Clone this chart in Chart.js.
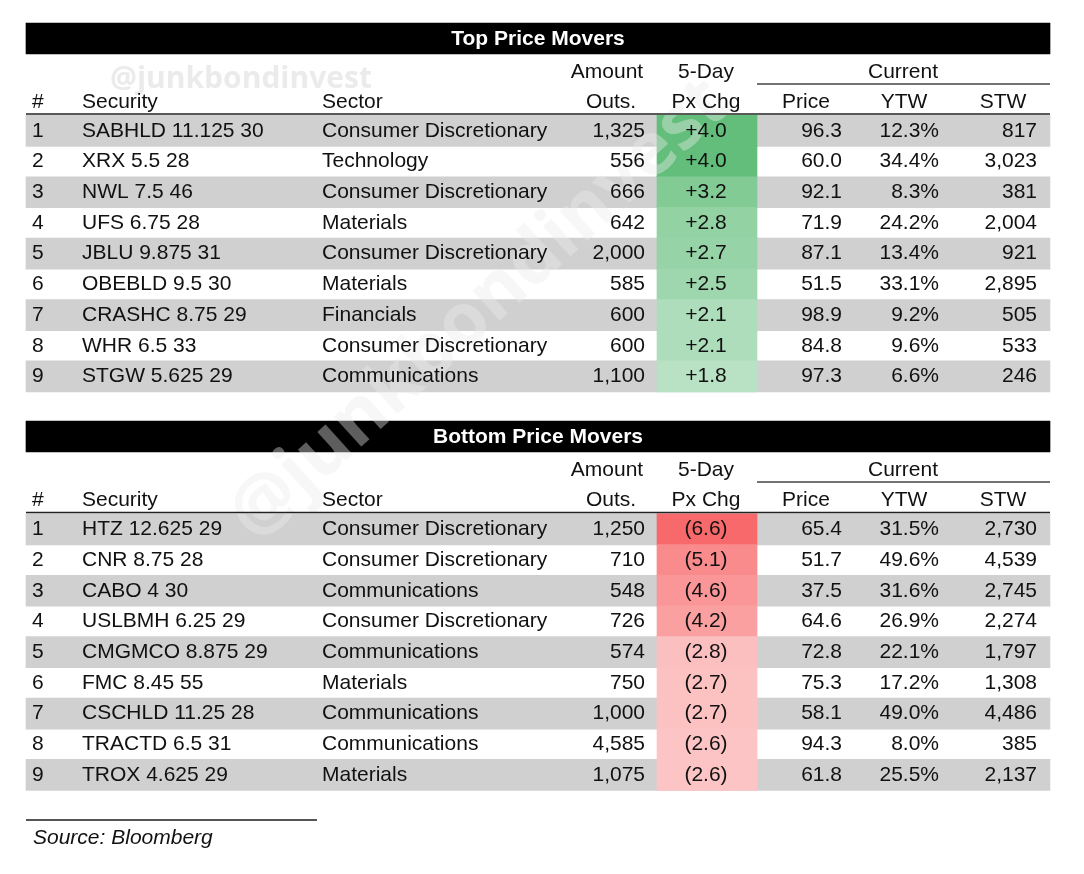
<!DOCTYPE html>
<html>
<head>
<meta charset="utf-8">
<script src="https://cdn.jsdelivr.net/npm/chart.js@4.4.1/dist/chart.umd.min.js"></script>
<style>
html,body{margin:0;padding:0;background:#fff;}
#wrap{width:1084px;height:874px;position:relative;}
</style>
</head>
<body>
<div id="wrap"><canvas id="c"></canvas></div>
<script>
// ---------- DATA ----------
const titles = ['Top Price Movers', 'Bottom Price Movers'];
const headerLine1 = ['Amount', '5-Day', 'Current'];
const headerLine2 = ['#', 'Security', 'Sector', 'Outs.', 'Px Chg', 'Price', 'YTW', 'STW'];

const topSecurity = ['SABHLD 11.125 30','XRX 5.5 28','NWL 7.5 46','UFS 6.75 28','JBLU 9.875 31','OBEBLD 9.5 30','CRASHC 8.75 29','WHR 6.5 33','STGW 5.625 29'];
const topSector = ['Consumer Discretionary','Technology','Consumer Discretionary','Materials','Consumer Discretionary','Materials','Financials','Consumer Discretionary','Communications'];
const topAmount = [1325,556,666,642,2000,585,600,600,1100];
const topChg = [4.0,4.0,3.2,2.8,2.7,2.5,2.1,2.1,1.8];
const topPrice = [96.3,60.0,92.1,71.9,87.1,51.5,98.9,84.8,97.3];
const topYtw = [12.3,34.4,8.3,24.2,13.4,33.1,9.2,9.6,6.6];
const topStw = [817,3023,381,2004,921,2895,505,533,246];

const botSecurity = ['HTZ 12.625 29','CNR 8.75 28','CABO 4 30','USLBMH 6.25 29','CMGMCO 8.875 29','FMC 8.45 55','CSCHLD 11.25 28','TRACTD 6.5 31','TROX 4.625 29'];
const botSector = ['Consumer Discretionary','Consumer Discretionary','Communications','Consumer Discretionary','Communications','Materials','Communications','Communications','Materials'];
const botAmount = [1250,710,548,726,574,750,1000,4585,1075];
const botChg = [-6.6,-5.1,-4.6,-4.2,-2.8,-2.7,-2.7,-2.6,-2.6];
const botPrice = [65.4,51.7,37.5,64.6,72.8,75.3,58.1,94.3,61.8];
const botYtw = [31.5,49.6,31.6,26.9,22.1,17.2,49.0,8.0,25.5];
const botStw = [2730,4539,2745,2274,1797,1308,4486,385,2137];

const sourceText = 'Source: Bloomberg';
const watermark = '@junkbondinvest';

// ---------- LAYOUT ----------
const L = {
  left: 26, right: 1050,
  titleCenter: [38.5, 436.5], titleH: 31,
  hdr1: [72, 470], hdr2: [102, 500], hdrLine: [114, 512.5], curLine: [84, 482],
  rowTop: [115.5, 514], rowH: 30.7,
  chgL: 657, chgR: 757,
  srcLineY: 820, srcLineR: 317, srcY: 838
};
const FONT = '"Liberation Sans", Arial, sans-serif';
const FS = 21;
const cols = {
  rank:{x:32,a:'left'}, sec:{x:82,a:'left'}, sector:{x:322,a:'left'},
  amt:{x:645,a:'right'}, chg:{x:706,a:'center'}, price:{x:842,a:'right'},
  ytw:{x:939,a:'right'}, stw:{x:1037,a:'right'}
};
const hdr1X = [607, 706, 903];
const hdr2Cols = [{x:32,a:'left'},{x:82,a:'left'},{x:322,a:'left'},{x:611,a:'center'},{x:706,a:'center'},{x:806,a:'center'},{x:904,a:'center'},{x:1003,a:'center'}];

const tables = [
  {sec:topSecurity, sector:topSector, amt:topAmount, chg:topChg, price:topPrice, ytw:topYtw, stw:topStw},
  {sec:botSecurity, sector:botSector, amt:botAmount, chg:botChg, price:botPrice, ytw:botYtw, stw:botStw}
];

const rowCenter = (t, i) => L.rowTop[t] + (i + 0.5) * L.rowH;

function chgColor(v) {
  if (v >= 0) {
    const t = Math.min(1, v / 4.0);
    return `rgb(${Math.round(255-156*t)},${Math.round(255-65*t)},${Math.round(255-132*t)})`;
  }
  const t = Math.min(1, -v / 6.6);
  return `rgb(${Math.round(255-7*t)},${Math.round(255-150*t)},${Math.round(255-148*t)})`;
}
const fmtInt = v => v.toLocaleString('en-US');
const fmtChg = v => v >= 0 ? '+' + v.toFixed(1) : '(' + Math.abs(v).toFixed(1) + ')';

// ---------- DATASETS ----------
const stripeData = [], chgData = [], chgColors = [], titleData = [];
tables.forEach((tb, t) => {
  titleData.push({x:[L.left, L.right], y:L.titleCenter[t]});
  tb.chg.forEach((v, i) => {
    if (i % 2 === 0) stripeData.push({x:[L.left, L.right], y:rowCenter(t, i)});
    chgData.push({x:[L.chgL, L.chgR], y:rowCenter(t, i)});
    chgColors.push(chgColor(v));
  });
});

const textPlugin = {
  id: 'tableText',
  afterDatasetsDraw(chart) {
    const ctx = chart.ctx, xs = chart.scales.x, ys = chart.scales.y;
    const X = v => xs.getPixelForValue(v), Y = v => ys.getPixelForValue(v);
    ctx.save();
    // watermarks
    ctx.fillStyle = 'rgba(232,232,232,0.85)';
    ctx.font = 'bold 30px "Open Sans", "DejaVu Sans", sans-serif';
    ctx.textAlign = 'left'; ctx.textBaseline = 'alphabetic';
    ctx.fillText(watermark, X(110), Y(88));
    ctx.save();
    ctx.translate(X(480), Y(310));
    ctx.rotate(-Math.PI * 0.235);
    ctx.fillStyle = 'rgba(236,236,236,0.4)';
    ctx.font = 'bold 74px "Open Sans", "DejaVu Sans", sans-serif';
    ctx.textAlign = 'center'; ctx.textBaseline = 'middle';
    ctx.fillText(watermark, 0, 0);
    ctx.restore();

    ctx.textBaseline = 'middle';
    tables.forEach((tb, t) => {
      // title
      ctx.fillStyle = '#fff';
      ctx.font = 'bold ' + FS + 'px ' + FONT;
      ctx.textAlign = 'center';
      ctx.fillText(titles[t], X(538), Y(L.titleCenter[t] + 1));
      // headers
      ctx.fillStyle = '#111';
      ctx.font = FS + 'px ' + FONT;
      headerLine1.forEach((h, k) => { ctx.textAlign = 'center'; ctx.fillText(h, X(hdr1X[k]), Y(L.hdr1[t])); });
      headerLine2.forEach((h, k) => { ctx.textAlign = hdr2Cols[k].a; ctx.fillText(h, X(hdr2Cols[k].x), Y(L.hdr2[t])); });
      // lines
      ctx.strokeStyle = '#222'; ctx.lineWidth = 1.5;
      ctx.beginPath(); ctx.moveTo(X(L.left), Y(L.hdrLine[t])); ctx.lineTo(X(L.right), Y(L.hdrLine[t])); ctx.stroke();
      ctx.strokeStyle = '#444'; ctx.lineWidth = 1.5;
      ctx.beginPath(); ctx.moveTo(X(L.chgR), Y(L.curLine[t])); ctx.lineTo(X(L.right), Y(L.curLine[t])); ctx.stroke();
      // rows
      ctx.fillStyle = '#111';
      tb.sec.forEach((s, i) => {
        const y = Y(rowCenter(t, i));
        const cells = [
          [String(i + 1), cols.rank], [s, cols.sec], [tb.sector[i], cols.sector],
          [fmtInt(tb.amt[i]), cols.amt], [fmtChg(tb.chg[i]), cols.chg],
          [tb.price[i].toFixed(1), cols.price], [tb.ytw[i].toFixed(1) + '%', cols.ytw],
          [fmtInt(tb.stw[i]), cols.stw]
        ];
        cells.forEach(([txt, c]) => { ctx.textAlign = c.a; ctx.fillText(txt, X(c.x), y); });
      });
    });
    // source
    ctx.strokeStyle = '#555'; ctx.lineWidth = 2;
    ctx.beginPath(); ctx.moveTo(X(L.left), Y(L.srcLineY)); ctx.lineTo(X(L.srcLineR), Y(L.srcLineY)); ctx.stroke();
    ctx.fillStyle = '#111';
    ctx.font = 'italic ' + FS + 'px ' + FONT;
    ctx.textAlign = 'left';
    ctx.fillText(sourceText, X(33), Y(L.srcY));
    ctx.restore();
  }
};

new Chart(document.getElementById('c'), {
  type: 'bar',
  data: {
    datasets: [
      {data: stripeData, backgroundColor: '#d0d0d0', barThickness: 31, grouped: false, borderWidth: 0, order: 3},
      {data: chgData, backgroundColor: chgColors, barThickness: 31, grouped: false, borderWidth: 0, order: 2},
      {data: titleData, backgroundColor: '#000', barThickness: 31, grouped: false, borderWidth: 0, order: 1}
    ]
  },
  options: {
    indexAxis: 'y',
    responsive: true,
    maintainAspectRatio: false,
    animation: false,
    layout: {padding: 0},
    plugins: {legend: {display: false}, tooltip: {enabled: false}, title: {display: false}},
    scales: {
      x: {type: 'linear', min: 0, max: 1084, display: false, offset: false},
      y: {type: 'linear', min: 0, max: 874, reverse: true, display: false, offset: false}
    }
  },
  plugins: [textPlugin]
});
</script>
</body>
</html>
